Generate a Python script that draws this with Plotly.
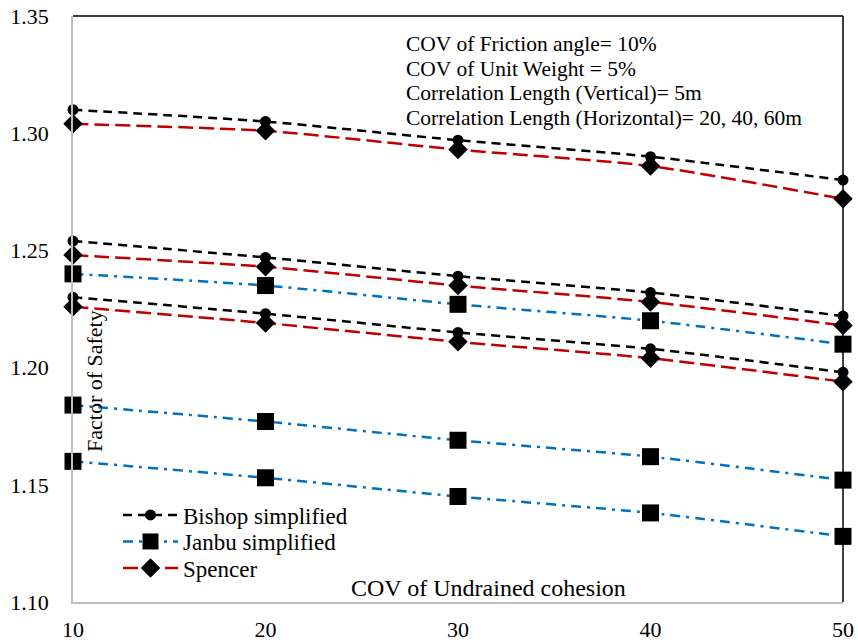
import plotly.graph_objects as go

cov = [10, 20, 30, 40, 50]

bishop_20 = [1.310, 1.305, 1.297, 1.290, 1.280]
spencer_20 = [1.304, 1.301, 1.293, 1.286, 1.272]
bishop_40 = [1.254, 1.247, 1.239, 1.232, 1.222]
spencer_40 = [1.248, 1.243, 1.235, 1.228, 1.218]
janbu_a = [1.240, 1.235, 1.227, 1.220, 1.210]
bishop_60 = [1.230, 1.223, 1.215, 1.208, 1.198]
spencer_60 = [1.226, 1.219, 1.211, 1.204, 1.194]
janbu_b = [1.184, 1.177, 1.169, 1.162, 1.152]
janbu_c = [1.160, 1.153, 1.145, 1.138, 1.128]

x_ticks = [10, 20, 30, 40, 50]
y_ticks = [1.10, 1.15, 1.20, 1.25, 1.30, 1.35]

notes = [
    "COV of Friction angle= 10%",
    "COV of Unit Weight = 5%",
    "Correlation Length (Vertical)= 5m",
    "Correlation Length (Horizontal)= 20, 40, 60m",
]

FONT = "Times New Roman"
BLACK = "#000000"
BLUE = "#0070C0"
RED = "#C00000"

bishop_style = dict(line=dict(color=BLACK, width=2.5, dash="9px,6px", shape="spline", smoothing=0.6),
                    marker=dict(symbol="circle", size=11, color=BLACK))
janbu_style = dict(line=dict(color=BLUE, width=2.5, dash="10px,6px,3px,6px", shape="spline", smoothing=0.6),
                   marker=dict(symbol="square", size=17, color=BLACK))
spencer_style = dict(line=dict(color=RED, width=2.5, dash="15px,6px", shape="spline", smoothing=0.6),
                     marker=dict(symbol="diamond", size=15, color=BLACK))

fig = go.Figure()

series = [
    (janbu_a, "Janbu simplified", janbu_style, True, "legend2"),
    (janbu_b, "Janbu simplified", janbu_style, False, "legend2"),
    (janbu_c, "Janbu simplified", janbu_style, False, "legend2"),
    (spencer_20, "Spencer", spencer_style, True, "legend3"),
    (spencer_40, "Spencer", spencer_style, False, "legend3"),
    (spencer_60, "Spencer", spencer_style, False, "legend3"),
    (bishop_20, "Bishop simplified", bishop_style, True, "legend"),
    (bishop_40, "Bishop simplified", bishop_style, False, "legend"),
    (bishop_60, "Bishop simplified", bishop_style, False, "legend"),
]
for ys, name, st, show, lg in series:
    fig.add_trace(go.Scatter(
        x=cov, y=ys, name=name, mode="lines+markers",
        line=st["line"], marker=st["marker"],
        showlegend=show, legend=lg,
        cliponaxis=False,
    ))

# screen geometry of the reference plot area (body margin removed below)
PL, PR, PT, PB = 73, 843, 16, 602
PW, PH = PR - PL, PB - PT


def px(x):
    return (x - PL) / PW


def py(y):
    return (PB - y) / PH


annotations = []
for i, t in enumerate(notes):
    annotations.append(dict(
        text=t, xref="paper", yref="paper", x=px(404), y=py(44 + i * 24.7),
        xanchor="left", yanchor="middle", showarrow=False,
        font=dict(family=FONT, size=21.5, color="#000"),
    ))
annotations.append(dict(
    text="COV of Undrained cohesion", xref="paper", yref="paper",
    x=px(488), y=py(588), xanchor="center", yanchor="middle",
    showarrow=False, font=dict(family=FONT, size=24, color="#000"),
))
annotations.append(dict(
    text="Factor of Safety", xref="paper", yref="paper",
    x=px(94), y=py(381), xanchor="center", yanchor="middle",
    textangle=-90, showarrow=False, font=dict(family=FONT, size=22, color="#000"),
))


def leg(yc):
    return dict(x=px(118), y=py(yc), xanchor="left", yanchor="middle",
                bgcolor="rgba(0,0,0,0)", font=dict(family=FONT, size=23, color="#000"),
                itemwidth=55, tracegroupgap=0)


fig.update_layout(
    width=858, height=643,
    margin=dict(l=PL, r=858 - PR, t=PT, b=643 - PB, autoexpand=False),
    paper_bgcolor="white", plot_bgcolor="white",
    font=dict(family=FONT, size=20, color="#000"),
    hovermode=False,
    xaxis=dict(range=[10, 50], tickvals=x_ticks, ticktext=[str(v) for v in x_ticks],
               showgrid=False, zeroline=False, showline=True, linecolor="#BFBFBF", linewidth=1.5,
               ticks="", ticklabelstandoff=7, automargin=False, ticklabeloverflow="allow",
               tickfont=dict(family=FONT, size=22, color="#000")),
    yaxis=dict(range=[1.10, 1.35], tickvals=y_ticks, ticktext=[f"{v:.2f}" for v in y_ticks],
               showgrid=False, zeroline=False, showline=True, linecolor="#BFBFBF", linewidth=1.5,
               ticks="", ticklabelstandoff=18, automargin=False, ticklabeloverflow="allow",
               tickfont=dict(family=FONT, size=22, color="#000")),
    legend=leg(515),
    legend2=leg(541.5),
    legend3=leg(568),
    annotations=annotations,
    shapes=[
        dict(type="line", xref="paper", yref="paper", x0=0, x1=1, y0=1, y1=1,
             line=dict(color="#000", width=1.5)),
        dict(type="line", xref="paper", yref="paper", x0=1, x1=1, y0=0, y1=1,
             line=dict(color="#000", width=1.5)),
    ],
)

fig.write_html("out.html",
               config={"displayModeBar": False},
               post_script="document.body.style.margin='0';document.body.style.overflow='hidden';")
